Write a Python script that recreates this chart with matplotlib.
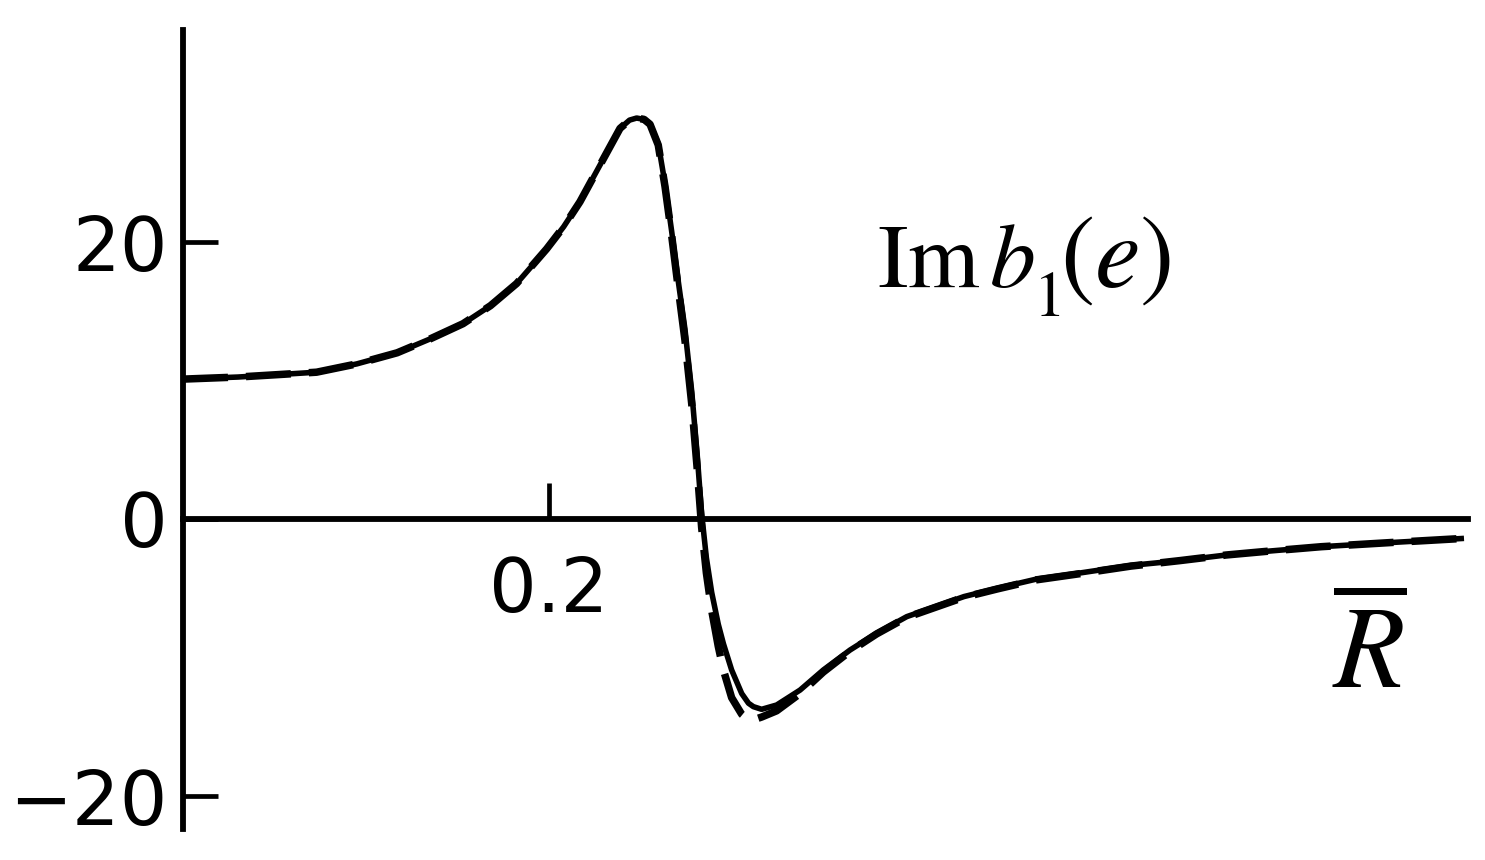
import matplotlib
matplotlib.use("Agg")
import matplotlib.pyplot as plt

plt.rcParams['mathtext.fontset'] = 'stix'
plt.rcParams['font.family'] = ['DejaVu Sans']

# Data
x_solid = [0.000, 0.030, 0.055, 0.073, 0.095, 0.117, 0.135, 0.153, 0.168, 0.1823,
           0.1987, 0.2080, 0.2169, 0.2297, 0.2388, 0.2440, 0.2479, 0.2520, 0.2552, 0.2597,
           0.2634, 0.2670, 0.2705, 0.2743, 0.2780, 0.2810, 0.2834, 0.2860, 0.2889, 0.2925,
           0.2953, 0.2998, 0.3053, 0.3090, 0.3117, 0.3162, 0.3244, 0.3372, 0.3499, 0.3645,
           0.3790, 0.3955, 0.4268, 0.4450, 0.4660, 0.4900, 0.5180, 0.5450, 0.5700, 0.5950,
           0.6220, 0.6600, 0.7000]
y_solid = [10.1, 10.25, 10.45, 10.6, 11.2, 12.0, 13.0, 14.1, 15.4, 17.0,
           19.5, 21.1, 22.9, 26.0, 28.2, 28.8, 28.95, 28.85, 28.5, 27.1,
           24.2, 20.8, 17.3, 13.7, 9.2, 4.6, 0.4, -2.8, -5.3, -7.6,
           -9.0, -10.9, -12.6, -13.3, -13.55, -13.74, -13.43, -12.35, -10.9, -9.46,
           -8.25, -7.05, -5.6, -5.0, -4.35, -3.9, -3.35, -3.0, -2.6, -2.3,
           -2.0, -1.7, -1.4]

x_dashed = x_solid
y_dashed = [10.1, 10.25, 10.45, 10.6, 11.2, 12.0, 13.0, 14.1, 15.4, 17.0,
            19.5, 21.1, 22.9, 26.0, 28.2, 28.8, 28.95, 28.85, 28.5, 27.0,
            24.0, 20.5, 16.8, 12.9, 8.3, 3.6, -0.6, -3.9, -6.6, -9.2,
            -10.9, -12.9, -14.1, -14.5, -14.5, -14.3, -13.85, -12.6, -11.05, -9.55,
            -8.3, -7.1, -5.65, -5.05, -4.4, -3.95, -3.4, -3.0, -2.6, -2.3,
            -2.0, -1.7, -1.4]

x_ticks = [0.2]
x_tick_labels = ["0.2"]
y_ticks = [-20, 0, 20]
y_tick_labels = ["\u221220", "0", "20"]

W, H = 1485, 860
fig = plt.figure(figsize=(W / 100, H / 100), dpi=100)
ax = fig.add_axes([183 / W, (H - 829) / H, (1468 - 183) / W, (829 - 30) / H])

ax.plot(x_dashed, y_dashed, color='black', lw=5.4, dashes=(6, 2.4),
        dash_joinstyle='round', dash_capstyle='butt')
ax.plot(x_solid, y_solid, color='black', lw=4.0, solid_joinstyle='round',
        solid_capstyle='butt')

ax.set_xlim(0, (1468 - 183) / 1830)
ax.set_ylim((519 - 829) / 13.85, (519 - 30) / 13.85)

for s in ['top', 'right']:
    ax.spines[s].set_visible(False)
ax.spines['bottom'].set_position(('data', 0))
ax.spines['left'].set_position(('data', 0))
for s in ['bottom', 'left']:
    ax.spines[s].set_linewidth(4.2)
    ax.spines[s].set_zorder(1)

ax.set_xticks(x_ticks)
ax.set_xticklabels(x_tick_labels)
ax.set_yticks(y_ticks)
ax.set_yticklabels(y_tick_labels)
ax.tick_params(axis='x', direction='in', length=26, width=3.4, pad=26,
               labelsize=54)
ax.tick_params(axis='y', direction='in', length=25, width=3.4, pad=11,
               labelsize=54)

fig.text(877 / W, (H - 287) / H, r'$\mathrm{Im}\,b$', fontsize=66,
         ha='left', va='baseline')
fig.text(1033 / W, (H - 316) / H, r'$\mathrm{1}$', fontsize=46,
         ha='left', va='baseline')
fig.text(1060 / W, (H - 287) / H, r'$(e)$', fontsize=74,
         ha='left', va='baseline')
fig.text(1369 / W, (H - 688) / H, r'$\overline{R}$', fontsize=84,
         ha='center', va='baseline')

fig.savefig('out.png', dpi=100)
